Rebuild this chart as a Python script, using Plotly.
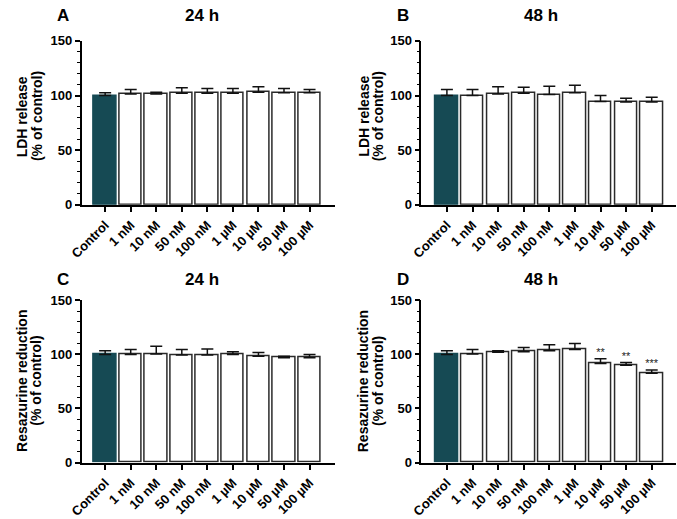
import plotly.graph_objects as go

categories = ["Control", "1 nM", "10 nM", "50 nM", "100 nM", "1 µM", "10 µM", "50 µM", "100 µM"]

ldh_24h_mean = [100, 101.5, 101.5, 102, 102, 102, 103, 102.5, 102.5]
ldh_24h_err = [2.5, 4, 1.5, 5, 4.5, 4.5, 5, 4, 3]

ldh_48h_mean = [100, 100, 101.5, 102, 101, 102.5, 94.5, 94, 94]
ldh_48h_err = [5.5, 5.5, 6.5, 5.5, 7.5, 7, 5.5, 3.5, 4.5]

res_24h_mean = [100, 100, 100.5, 99.5, 99.5, 100, 98.3, 97, 97]
res_24h_err = [3.5, 4.5, 7, 5, 5.5, 2.5, 3.5, 1.2, 3]

res_48h_mean = [100, 100.5, 102, 102.5, 103.5, 104.5, 91.5, 90, 82.5]
res_48h_err = [3.5, 4, 1.5, 4, 5.5, 5.5, 4.5, 2.5, 3]
res_48h_sig = ["", "", "", "", "", "", "**", "**", "***"]

W, H = 677, 519
FONT = "Arial, Liberation Sans, Helvetica, sans-serif"
TEAL = "#164a54"

panels = [
    dict(letter="A", time="24 h", mean=ldh_24h_mean, err=ldh_24h_err, sig=None,
         ytitle=["LDH release", "(% of control)"],
         x0=70, x1=328, y0=35, y1=204, xr=[-0.92, 8.985],
         letter_x=51, time_x=193, title_y=9, ytitle_x=[9, 24], ytitle_y=113),
    dict(letter="B", time="48 h", mean=ldh_48h_mean, err=ldh_48h_err, sig=None,
         ytitle=["LDH release", "(% of control)"],
         x0=416.3, x1=676, y0=35, y1=204, xr=[-1.0, 8.95],
         letter_x=398, time_x=538, title_y=9, ytitle_x=[357, 372], ytitle_y=113),
    dict(letter="C", time="24 h", mean=res_24h_mean, err=res_24h_err, sig=None,
         ytitle=["Resazurine reduction", "(% of control)"],
         x0=70, x1=328, y0=302.7, y1=470, xr=[-0.92, 8.985],
         letter_x=51, time_x=193, title_y=281, ytitle_x=[9, 24], ytitle_y=386),
    dict(letter="D", time="48 h", mean=res_48h_mean, err=res_48h_err, sig=res_48h_sig,
         ytitle=["Resazurine reduction", "(% of control)"],
         x0=416.3, x1=676, y0=302.7, y1=470, xr=[-1.0, 8.95],
         letter_x=398, time_x=538, title_y=281, ytitle_x=[357, 372], ytitle_y=386),
]

fig = go.Figure()
xs = list(range(len(categories)))
fills = [TEAL] + ["white"] * (len(categories) - 1)
lines = [TEAL] + ["#2a2a2a"] * (len(categories) - 1)

annotations = []
for i, p in enumerate(panels):
    n = "" if i == 0 else str(i + 1)
    xa, ya = "x" + n, "y" + n
    fig.add_trace(go.Bar(
        x=xs, y=p["mean"], width=0.88, xaxis=xa, yaxis=ya,
        marker=dict(color=fills, line=dict(color=lines, width=1.5)),
        error_y=dict(type="data", symmetric=False, array=p["err"],
                     arrayminus=[0] * len(xs), color="#111111",
                     thickness=1.5, width=6),
        showlegend=False, hoverinfo="skip",
    ))
    if p["sig"]:
        tops = [m + e for m, e in zip(p["mean"], p["err"])]
        fig.add_trace(go.Scatter(
            x=xs, y=tops, text=p["sig"], mode="text", textposition="top center",
            textfont=dict(family=FONT, size=11, color="#222222"),
            xaxis=xa, yaxis=ya, showlegend=False, hoverinfo="skip", cliponaxis=False,
        ))
    fig.layout["xaxis" + n] = dict(
        domain=[p["x0"] / W, p["x1"] / W], range=p["xr"], anchor=ya,
        tickmode="array", tickvals=xs, ticktext=categories, tickangle=-45,
        tickfont=dict(family=FONT, size=13, color="black", weight="bold"),
        ticks="outside", ticklen=6, tickwidth=1.5, tickcolor="black",
        showline=True, linecolor="black", linewidth=1.5,
        showgrid=False, zeroline=False, fixedrange=True,
    )
    fig.layout["yaxis" + n] = dict(
        domain=[1 - p["y1"] / H, 1 - p["y0"] / H], range=[0, 150], anchor=xa,
        tickmode="array", tickvals=[0, 50, 100, 150],
        tickfont=dict(family=FONT, size=13, color="black", weight="bold"),
        ticks="outside", ticklen=5, tickwidth=1.5, tickcolor="black",
        minor=dict(tickmode="linear", tick0=0, dtick=10, ticks="outside",
                   ticklen=3, tickwidth=1.2, tickcolor="black"),
        showline=True, linecolor="black", linewidth=1.5,
        showgrid=False, zeroline=False, fixedrange=True,
    )
    annotations.append(dict(text=p["letter"], x=p["letter_x"] / W, y=1 - p["title_y"] / H,
                            xref="paper", yref="paper", showarrow=False,
                            xanchor="center", yanchor="middle",
                            font=dict(family=FONT, size=17, color="black", weight="bold")))
    annotations.append(dict(text=p["time"], x=p["time_x"] / W, y=1 - p["title_y"] / H,
                            xref="paper", yref="paper", showarrow=False,
                            xanchor="center", yanchor="middle",
                            font=dict(family=FONT, size=17, color="black", weight="bold")))
    for txt, tx in zip(p["ytitle"], p["ytitle_x"]):
        annotations.append(dict(text=txt, x=tx / W, y=1 - p["ytitle_y"] / H,
                                xref="paper", yref="paper", showarrow=False, textangle=-90,
                                xanchor="center", yanchor="middle",
                                font=dict(family=FONT, size=14, color="black", weight="bold")))

fig.update_layout(
    width=W, height=H, margin=dict(l=0, r=0, t=0, b=0),
    paper_bgcolor="white", plot_bgcolor="white",
    bargap=0, annotations=annotations,
)

fig.write_html("out.html")
